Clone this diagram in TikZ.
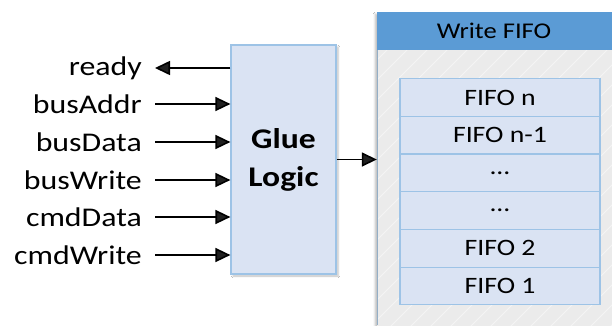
\documentclass[tikz,border=0pt]{standalone}
\usepackage{graphicx}
\usepackage{fontspec}
\setmainfont{Carlito}
\usetikzlibrary{arrows.meta,shadows.blur}
\definecolor{boxfill}{HTML}{DAE3F3}
\definecolor{boxline}{HTML}{9DC3E6}
\definecolor{headfill}{HTML}{5B9BD5}
\definecolor{bodyfill}{HTML}{EBEBEB}
% slightly widened lettering
\newcommand{\widetext}[1]{\scalebox{1.18}[1]{#1}}
\tikzset{
  sig/.style={anchor=east, font=\fontsize{27}{27}\selectfont, inner sep=0pt},
  wire/.style={-{Triangle[length=15pt,width=14pt]}, line width=1.6pt},
  gluebox/.style={draw=boxline, fill=boxfill, line width=1.2pt, blur shadow={shadow blur steps=5, shadow xshift=2pt, shadow yshift=-2pt, shadow opacity=25}},
  slot/.style={draw=boxline, fill=boxfill, line width=1.2pt, minimum width=200pt, minimum height=37.7pt, inner sep=0pt, font=\fontsize{23.5}{23.5}\selectfont},
}
\begin{document}
\begin{tikzpicture}[x=1pt, y=-1pt]
\useasboundingbox (0,0) rectangle (612,325);
\fill[white] (0,0) rectangle (612,325);

% Write FIFO container with header band
\fill[bodyfill, blur shadow={shadow blur steps=5, shadow xshift=-2pt, shadow yshift=-2pt, shadow opacity=25}] (377,12) rectangle (616,330);
\begin{scope}
  \clip (377,50) rectangle (612,325);
  \foreach \k in {0,20,...,560} {
    \draw[white, opacity=0.45, line width=0.8pt] (377+\k-300,340) -- (377+\k,40);
  }
\end{scope}
\draw[boxline!70!gray, line width=1pt] (377.5,12) -- (377.5,325);
\fill[headfill] (377,12) rectangle (612,50);
\node (head) at (494,31) {\fontsize{22.5}{22.5}\selectfont\widetext{Write FIFO}};
\node[draw=none, minimum width=235pt, minimum height=313pt, inner sep=0pt] (fifo) at (494.5,168.5) {};

% FIFO slots, top to bottom
\node[slot] (s1) at (500, 97.5) {\widetext{FIFO n}};
\node[slot] (s2) at (500, 135.2) {\widetext{FIFO n-1}};
\node[slot] (s3) at (500, 172.9) {\widetext{...}};
\node[slot] (s4) at (500, 210.6) {\widetext{...}};
\node[slot] (s5) at (500, 248.3) {\widetext{FIFO 2}};
\node[slot] (s6) at (500, 286.0) {\widetext{FIFO 1}};

% Glue logic block
\node[gluebox, minimum width=105pt, minimum height=229pt, inner sep=0pt, align=center,
      font=\bfseries\fontsize{28.5}{38}\selectfont] (glue) at (283.5,159.5) {\widetext{Glue}\\\widetext{Logic}};

% Signal names
\node[sig] (ready) at (142,68) {\widetext{ready}};
\node[sig] (busAddr) at (142,104) {\widetext{busAddr}};
\node[sig] (busData) at (142,142) {\widetext{busData}};
\node[sig] (busWrite) at (142,180) {\widetext{busWrite}};
\node[sig] (cmdData) at (142,217) {\widetext{cmdData}};
\node[sig] (cmdWrite) at (142,255) {\widetext{cmdWrite}};

% Connections
\draw[wire] (glue.west |- ready) -- ([xshift=13pt]ready.east);
\foreach \s in {busAddr,busData,busWrite,cmdData,cmdWrite} {
  \draw[wire] ([xshift=13pt]\s.east) -- (glue.west |- \s);
}
\draw[wire] (glue.east) -- (glue.east -| fifo.west);
\end{tikzpicture}
\end{document}
